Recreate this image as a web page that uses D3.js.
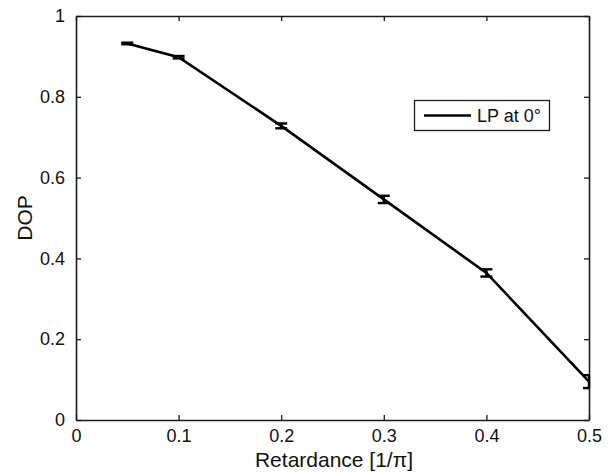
<!DOCTYPE html>
<html><head><meta charset="utf-8">
<script src="https://cdn.jsdelivr.net/npm/d3@7/dist/d3.min.js"></script>
<style>body{margin:0;background:#fff}svg{display:block}text{font-family:"Liberation Sans",Arial,sans-serif;fill:#111}</style>
</head><body><svg id="c" width="610" height="476"></svg>
<script>
const retardance = [0.05, 0.1, 0.2, 0.3, 0.4, 0.5];
const dop = [0.932, 0.898, 0.728, 0.546, 0.364, 0.095];
const dopErr = [0.002, 0.003, 0.006, 0.009, 0.009, 0.016];
const xTicks = [0, 0.1, 0.2, 0.3, 0.4, 0.5];
const yTicks = [0, 0.2, 0.4, 0.6, 0.8, 1];
const legendLabel = "LP at 0°";

const svg = d3.select("#c");
const L = 76, R = 589, T = 16, B = 420;
const x = d3.scaleLinear().domain([0, 0.5]).range([L, R]);
const y = d3.scaleLinear().domain([0, 1]).range([B, T]);
const fmt = d => d === 0 ? "0" : d === 1 ? "1" : d3.format(".1f")(d);

// axes
const gx = svg.append("g").attr("transform", `translate(0,${B})`)
  .call(d3.axisBottom(x).tickValues(xTicks).tickSizeInner(-5).tickSizeOuter(0).tickPadding(9).tickFormat(fmt));
const gxt = svg.append("g").attr("transform", `translate(0,${T})`)
  .call(d3.axisTop(x).tickValues(xTicks).tickSizeInner(-5).tickSizeOuter(0).tickFormat(""));
const gy = svg.append("g").attr("transform", `translate(${L},0)`)
  .call(d3.axisLeft(y).tickValues(yTicks).tickSizeInner(-5).tickSizeOuter(0).tickPadding(11).tickFormat(fmt));
const gyr = svg.append("g").attr("transform", `translate(${R},0)`)
  .call(d3.axisRight(y).tickValues(yTicks).tickSizeInner(-5).tickSizeOuter(0).tickFormat(""));
[gx, gxt, gy, gyr].forEach(g => {
  g.select(".domain").attr("stroke", "#1a1a1a").attr("stroke-width", 1.6);
  g.selectAll(".tick line").attr("stroke", "#1a1a1a").attr("stroke-width", 1.3);
  g.selectAll(".tick text").style("font-size", "18px").attr("fill", "#111")
    .style("font-family", '"Liberation Sans",Arial,sans-serif');
});
gx.selectAll(".tick text").attr("dy", "0.71em");

// data line
const pts = retardance.map((r, i) => ({r, v: dop[i], e: dopErr[i]}));
svg.append("path").datum(pts)
  .attr("fill", "none").attr("stroke", "#000").attr("stroke-width", 2.6)
  .attr("d", d3.line().x(d => x(d.r)).y(d => y(d.v)));

// error bars
const eb = svg.append("g").attr("stroke", "#000").attr("stroke-width", 2.4);
pts.forEach(d => {
  eb.append("line").attr("x1", x(d.r)).attr("x2", x(d.r)).attr("y1", y(d.v - d.e)).attr("y2", y(d.v + d.e));
  [d.v - d.e, d.v + d.e].forEach(v => {
    eb.append("line").attr("x1", Math.max(x(d.r) - 6, L)).attr("x2", Math.min(x(d.r) + 6, R))
      .attr("y1", y(v)).attr("y2", y(v));
  });
});

// legend
const lg = svg.append("g");
lg.append("rect").attr("x", 414.5).attr("y", 100.5).attr("width", 135).attr("height", 30)
  .attr("fill", "#fff").attr("stroke", "#1a1a1a").attr("stroke-width", 1.3);
lg.append("line").attr("x1", 424).attr("x2", 471).attr("y1", 115.5).attr("y2", 115.5)
  .attr("stroke", "#000").attr("stroke-width", 2.6);
lg.append("text").attr("x", 477).attr("y", 122).style("font-size", "18px").text(legendLabel);

// axis labels
svg.append("text").attr("x", 334).attr("y", 467).attr("text-anchor", "middle")
  .style("font-size", "21px").text("Retardance [1/π]");
svg.append("text").attr("transform", "translate(32,218) rotate(-90)").attr("text-anchor", "middle")
  .style("font-size", "21px").text("DOP");
</script></body></html>
